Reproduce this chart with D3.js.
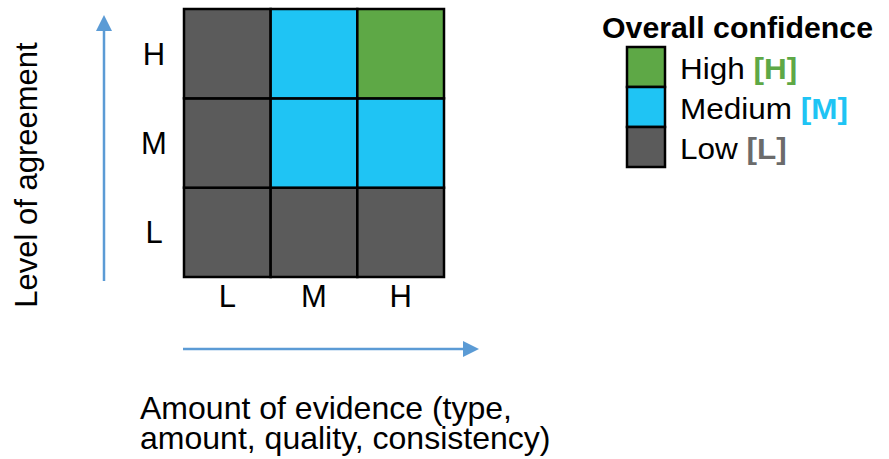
<!DOCTYPE html>
<html>
<head>
<meta charset="utf-8">
<script src="https://cdn.jsdelivr.net/npm/d3@7"></script>
<style>
  body { margin: 0; background: #fff; }
  text { font-family: "Liberation Sans", Arial, sans-serif; fill: #000; }
</style>
</head>
<body>
<script>
// data
var evidenceLevels = ["L", "M", "H"];
var agreementLevels = ["L", "M", "H"];
// confidence per [agreement][evidence], rows from L to H
var confidenceGrid = [
    ["L", "L", "L"],
    ["L", "M", "M"],
    ["L", "M", "H"]
];
var legendCodes = ["H", "M", "L"];
var legendNames = ["High", "Medium", "Low"];
var xTitle = ["Amount of evidence (type,", "amount, quality, consistency)"];
var yTitle = "Level of agreement";
var legendTitle = "Overall confidence";

var colors = { H: "#5ea846", M: "#1fc4f4", L: "#5b5b5b" };
var legendTextColors = { H: "#5ea846", M: "#1fc4f4", L: "#6b6b6b" };
var arrowColor = "#5b9bd5";

var width = 889, height = 459;

var svg = d3.select("body").append("svg")
    .attr("width", width)
    .attr("height", height);

// scales
var x = d3.scaleBand().domain(evidenceLevels).range([184, 444]);
var y = d3.scaleBand().domain(agreementLevels).range([277, 9]);

// flatten grid to cells
var cells = [];
confidenceGrid.forEach(function (row, i) {
    row.forEach(function (c, j) {
        cells.push({ agree: agreementLevels[i], evid: evidenceLevels[j], conf: c });
    });
});

svg.append("g").selectAll("rect")
    .data(cells)
    .enter().append("rect")
    .attr("x", function (d) { return x(d.evid); })
    .attr("y", function (d) { return y(d.agree); })
    .attr("width", x.bandwidth())
    .attr("height", y.bandwidth())
    .attr("fill", function (d) { return colors[d.conf]; })
    .attr("stroke", "#000")
    .attr("stroke-width", 2.5);

// x tick labels
svg.append("g").selectAll("text")
    .data(evidenceLevels)
    .enter().append("text")
    .attr("x", function (d) { return x(d) + x.bandwidth() / 2; })
    .attr("y", 307)
    .attr("text-anchor", "middle")
    .style("font-size", "31px")
    .text(function (d) { return d; });

// y tick labels
svg.append("g").selectAll("text")
    .data(agreementLevels)
    .enter().append("text")
    .attr("x", 154)
    .attr("y", function (d) { return y(d) + y.bandwidth() / 2 + 11; })
    .attr("text-anchor", "middle")
    .style("font-size", "31px")
    .text(function (d) { return d; });

// arrows
var defs = svg.append("defs");
defs.append("marker")
    .attr("id", "arrow")
    .attr("viewBox", "0 0 16 16")
    .attr("refX", 0)
    .attr("refY", 8)
    .attr("markerWidth", 16)
    .attr("markerHeight", 16)
    .attr("markerUnits", "userSpaceOnUse")
    .attr("orient", "auto")
    .append("path")
    .attr("d", "M0,0L16,8L0,16Z")
    .attr("fill", arrowColor);

svg.append("line")
    .attr("x1", 104).attr("y1", 281)
    .attr("x2", 104).attr("y2", 31)
    .attr("stroke", arrowColor)
    .attr("stroke-width", 2.5)
    .attr("marker-end", "url(#arrow)");

svg.append("line")
    .attr("x1", 183).attr("y1", 349)
    .attr("x2", 463).attr("y2", 349)
    .attr("stroke", arrowColor)
    .attr("stroke-width", 2.5)
    .attr("marker-end", "url(#arrow)");

// axis titles
svg.append("text")
    .attr("transform", "translate(37,175) rotate(-90)")
    .attr("text-anchor", "middle")
    .style("font-size", "31px")
    .text(yTitle);

// reference text is a bit wider than Arial, so stretch a little
svg.append("text")
    .attr("transform", "translate(140,0) scale(1.05,1)")
    .selectAll("tspan")
    .data(xTitle)
    .enter().append("tspan")
    .attr("x", 0)
    .attr("y", function (d, i) { return 419 + i * 30; })
    .style("font-size", "30.5px")
    .text(function (d) { return d; });

// legend
var legend = svg.append("g");
legend.append("text")
    .attr("transform", "translate(602,38) scale(1.045,1)")
    .style("font-size", "29px")
    .style("font-weight", "bold")
    .text(legendTitle);

var ly = d3.scaleBand().domain(legendCodes).range([47, 167]);

legend.selectAll("rect")
    .data(legendCodes)
    .enter().append("rect")
    .attr("x", 627)
    .attr("y", function (d) { return ly(d); })
    .attr("width", 38)
    .attr("height", ly.bandwidth())
    .attr("fill", function (d) { return colors[d]; })
    .attr("stroke", "#000")
    .attr("stroke-width", 2.5);

var labels = legend.selectAll(".lab")
    .data(legendCodes)
    .enter().append("text")
    .attr("class", "lab")
    .attr("transform", function (d) {
        return "translate(680," + (ly(d) + ly.bandwidth() / 2 + 12) + ") scale(1.05,1)";
    })
    .style("font-size", "30px");

labels.append("tspan")
    .text(function (d, i) { return legendNames[i] + " "; });
labels.append("tspan")
    .style("font-weight", "bold")
    .style("fill", function (d) { return legendTextColors[d]; })
    .text(function (d) { return "[" + d + "]"; });
</script>
</body>
</html>
